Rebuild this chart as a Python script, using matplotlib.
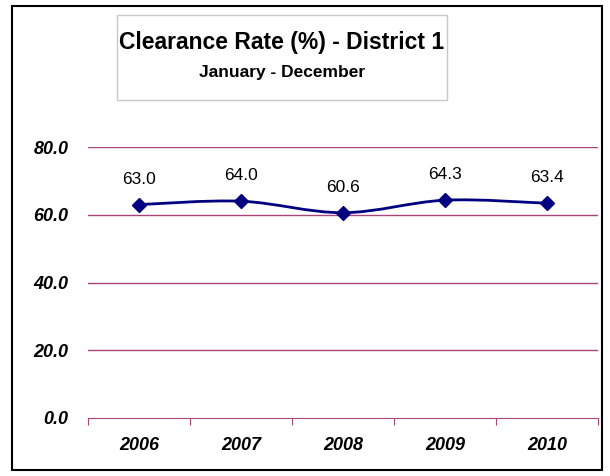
import matplotlib

matplotlib.use("Agg")
import matplotlib.pyplot as plt
from matplotlib.patches import Rectangle, PathPatch
from matplotlib.path import Path
import numpy as np

years = ["2006", "2007", "2008", "2009", "2010"]
rates = [63.0, 64.0, 60.6, 64.3, 63.4]
y_ticks = [0.0, 20.0, 40.0, 60.0, 80.0]

GRID = "#a8457a"
LINE = "#000080"
plt.rcParams["font.family"] = ["Liberation Sans", "DejaVu Sans"]

fig = plt.figure(figsize=(6.10, 4.76), dpi=100)
ax = fig.add_axes([88 / 610, 58 / 476, 510 / 610, 271 / 476])

x = np.arange(len(years), dtype=float)
y = np.asarray(rates)

# Excel-style smoothed line: Catmull-Rom as cubic Bezier segments
verts = [(x[0], y[0])]
codes = [Path.MOVETO]
n = len(x)
for i in range(n - 1):
    p0 = (x[max(i - 1, 0)], y[max(i - 1, 0)])
    p1 = (x[i], y[i])
    p2 = (x[i + 1], y[i + 1])
    p3 = (x[min(i + 2, n - 1)], y[min(i + 2, n - 1)])
    c1 = (p1[0] + (p2[0] - p0[0]) / 6, p1[1] + (p2[1] - p0[1]) / 6)
    c2 = (p2[0] - (p3[0] - p1[0]) / 6, p2[1] - (p3[1] - p1[1]) / 6)
    verts += [c1, c2, p2]
    codes += [Path.CURVE4] * 3
ax.add_patch(PathPatch(Path(verts, codes), fill=False, edgecolor=LINE, lw=2, zorder=3))
ax.plot(x, y, ls="none", marker="D", ms=7, color=LINE, zorder=4)

for xi, yi in zip(x, y):
    ax.annotate(f"{yi:.1f}", (xi, yi), xytext=(0, 13), textcoords="offset points",
                ha="center", va="bottom", fontsize=12.5)

ax.set_xlim(-0.5, len(years) - 0.5)
ax.set_ylim(0, 80)
ax.set_yticks(y_ticks)
ax.set_yticklabels([f"{v:.1f}" for v in y_ticks], fontsize=13, fontweight="bold", style="italic")
ax.tick_params(axis="y", length=0, pad=14)
ax.set_xticks(np.arange(-0.5, len(years), 1.0))
ax.set_xticklabels([])
ax.tick_params(axis="x", which="major", length=5, color=GRID, direction="out")
ax.set_xticks(x, minor=True)
ax.set_xticklabels(years, minor=True, fontsize=13, fontweight="bold", style="italic")
ax.tick_params(axis="x", which="minor", length=0, pad=14)

for v in y_ticks[1:]:
    ax.axhline(v, color=GRID, lw=1, zorder=1)
for s in ["left", "right", "top"]:
    ax.spines[s].set_visible(False)
ax.spines["bottom"].set_color(GRID)

# title box
fig.patches.append(Rectangle((117 / 610, 1 - 100 / 476), 330 / 610, 85 / 476,
                             transform=fig.transFigure, fill=False, edgecolor="#c8c8c8", lw=1))
fig.text(282 / 610, 1 - 42 / 476, "Clearance Rate (%) - District 1", ha="center", va="center",
         fontsize=16.5, fontweight="bold")
fig.text(282 / 610, 1 - 73 / 476, "January - December", ha="center", va="center",
         fontsize=12.5, fontweight="bold")

# outer border
fig.patches.append(Rectangle((12 / 610, 6 / 476), 590 / 610, 464 / 476,
                             transform=fig.transFigure, fill=False, edgecolor="black", lw=1.5))

fig.savefig("out.png", dpi=100)
